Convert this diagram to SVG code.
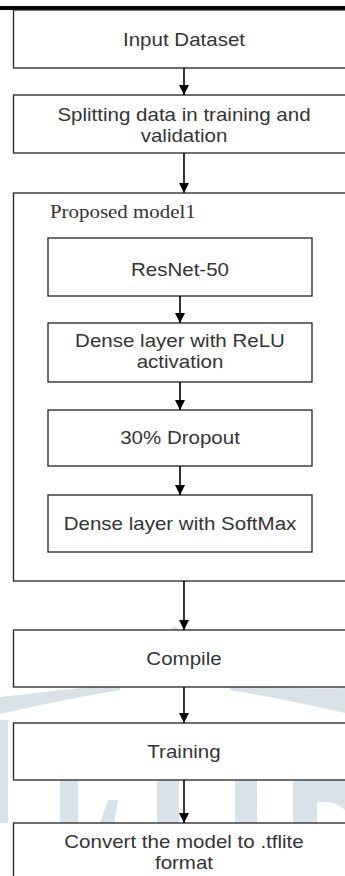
<svg xmlns="http://www.w3.org/2000/svg" width="345" height="876" viewBox="0 0 345 876">
  <defs>
    <marker id="arrow" viewBox="0 0 10 10" refX="10" refY="5" markerWidth="10" markerHeight="10" markerUnits="userSpaceOnUse" orient="auto">
      <path d="M0,0 L10,5 L0,10 Z" fill="#000"/>
    </marker>
    <style>
      .box { fill: #fff; stroke: #222; stroke-width: 1.3; }
      .frame { fill: none; stroke: #222; stroke-width: 1.3; }
      .lbl { font-family: "Liberation Sans", Arial, sans-serif; font-size: 18px; fill: #333; text-anchor: middle; }
      .title { font-family: "Liberation Serif", "Times New Roman", serif; font-size: 19px; fill: #333; }
      .edge { stroke: #000; stroke-width: 1.6; fill: none; marker-end: url(#arrow); }
      .wm { fill: #d9e2e8; }
    </style>
  </defs>

  <rect width="345" height="876" fill="#fff"/>

  <!-- background watermark -->
  <g id="watermark">
    <path class="wm" d="M0,697 Q60,690 120,684 L120,690 Q60,700 0,714 Z"/>
    <path class="wm" d="M230,684 Q290,690 345,688 L345,713 Q290,700 230,690 Z"/>
    <path class="wm" d="M170,630 L175,626 L179,630 Z"/>
    <rect class="wm" x="0" y="720" width="8" height="103"/>
    <rect class="wm" x="60" y="780" width="18" height="43"/>
    <path class="wm" d="M100,823 L108,800 L118,800 L114,823 Z"/>
    <rect class="wm" x="157" y="780" width="22" height="43"/>
    <rect class="wm" x="235" y="780" width="22" height="43"/>
    <rect class="wm" x="293" y="780" width="24" height="43"/>
    <path class="wm" d="M317,780 L345,780 L345,810 Q335,800 317,802 Z"/>
  </g>

  <!-- header rule -->
  <rect x="0" y="6" width="345" height="4" fill="#000"/>

  <!-- labels are drawn slightly wide: scale(1.14,1) about each anchor -->
  <g id="input-dataset">
    <rect class="box" x="13.5" y="10" width="345" height="58"/>
    <text class="lbl" transform="translate(184,46) scale(1.14,1)">Input Dataset</text>
  </g>

  <g id="split-data">
    <rect class="box" x="13.5" y="95" width="345" height="58"/>
    <g transform="translate(184,121) scale(1.14,1)">
      <text class="lbl" y="0">Splitting data in training and</text>
      <text class="lbl" y="21">validation</text>
    </g>
  </g>

  <g id="proposed-model">
    <rect class="frame" x="13.5" y="193" width="345" height="388"/>
    <text class="title" transform="translate(50,218) scale(1.1,1)">Proposed model1</text>
  </g>

  <g id="resnet">
    <rect class="box" x="48" y="238" width="264" height="58"/>
    <text class="lbl" transform="translate(180,276) scale(1.14,1)">ResNet-50</text>
  </g>

  <g id="dense-relu">
    <rect class="box" x="48" y="323" width="264" height="59"/>
    <g transform="translate(180,347) scale(1.14,1)">
      <text class="lbl" y="0">Dense layer with ReLU</text>
      <text class="lbl" y="21">activation</text>
    </g>
  </g>

  <g id="dropout">
    <rect class="box" x="48" y="410" width="264" height="56"/>
    <text class="lbl" transform="translate(180,444) scale(1.14,1)">30% Dropout</text>
  </g>

  <g id="dense-softmax">
    <rect class="box" x="48" y="495" width="264" height="57"/>
    <text class="lbl" transform="translate(180,530) scale(1.14,1)">Dense layer with SoftMax</text>
  </g>

  <g id="compile">
    <rect class="box" x="13.5" y="630" width="345" height="57"/>
    <text class="lbl" transform="translate(184,665) scale(1.14,1)">Compile</text>
  </g>

  <g id="training">
    <rect class="box" x="13.5" y="723" width="345" height="57"/>
    <text class="lbl" transform="translate(184,758) scale(1.14,1)">Training</text>
  </g>

  <g id="convert">
    <rect class="box" x="13.5" y="823" width="345" height="60"/>
    <g transform="translate(184,848) scale(1.14,1)">
      <text class="lbl" y="0">Convert the model to .tflite</text>
      <text class="lbl" y="21">format</text>
    </g>
  </g>

  <g id="connectors">
    <line class="edge" x1="184" y1="68" x2="184" y2="95"/>
    <line class="edge" x1="184" y1="153" x2="184" y2="193"/>
    <line class="edge" x1="180" y1="296" x2="180" y2="323"/>
    <line class="edge" x1="180" y1="382" x2="180" y2="410"/>
    <line class="edge" x1="180" y1="466" x2="180" y2="495"/>
    <line class="edge" x1="184" y1="581" x2="184" y2="630"/>
    <line class="edge" x1="184" y1="687" x2="184" y2="723"/>
    <line class="edge" x1="184" y1="780" x2="184" y2="823"/>
  </g>
</svg>
